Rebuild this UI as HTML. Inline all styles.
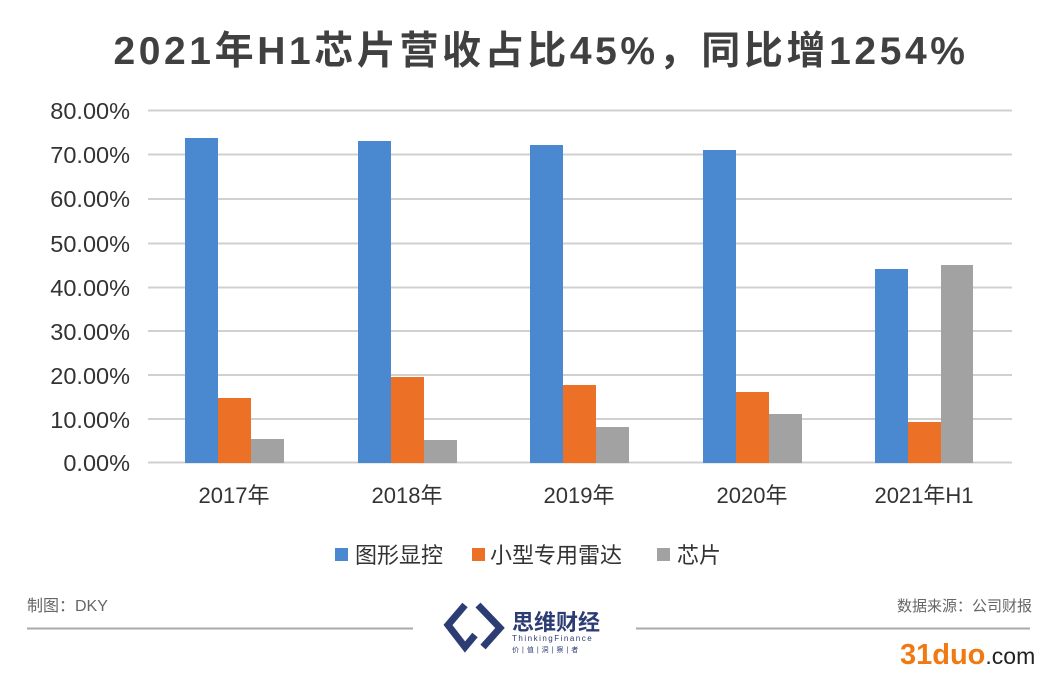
<!DOCTYPE html>
<html><head><meta charset="utf-8"><style>
body{margin:0;background:#fff;width:1063px;height:675px;overflow:hidden;font-family:"Liberation Sans","Noto Sans CJK SC",sans-serif}
</style></head><body>
<svg width="1063" height="675" xmlns="http://www.w3.org/2000/svg" font-family="Liberation Sans, Noto Sans CJK SC, sans-serif">
<text x="541" y="64" text-anchor="middle" font-size="39" font-weight="bold" fill="#404040" letter-spacing="3.6">2021年H1芯片营收占比45%，同比增1254%</text>
<g stroke="#d0d0d0" stroke-width="2">
<line x1="148" x2="1012" y1="110.5" y2="110.5"/>
<line x1="148" x2="1012" y1="154.5" y2="154.5"/>
<line x1="148" x2="1012" y1="199" y2="199"/>
<line x1="148" x2="1012" y1="243.5" y2="243.5"/>
<line x1="148" x2="1012" y1="287.5" y2="287.5"/>
<line x1="148" x2="1012" y1="331" y2="331"/>
<line x1="148" x2="1012" y1="375" y2="375"/>
<line x1="148" x2="1012" y1="419" y2="419"/>
<line x1="148" x2="1012" y1="462.5" y2="462.5"/>
</g>
<g font-size="23.5" fill="#333" text-anchor="end">
<text x="130" y="119">80.00%</text>
<text x="130" y="163">70.00%</text>
<text x="130" y="207">60.00%</text>
<text x="130" y="252">50.00%</text>
<text x="130" y="296">40.00%</text>
<text x="130" y="340">30.00%</text>
<text x="130" y="384">20.00%</text>
<text x="130" y="428">10.00%</text>
<text x="130" y="471">0.00%</text>
</g>
<g fill="#4a89d0">
<rect x="185" y="138" width="33" height="325"/>
<rect x="358" y="141" width="33" height="322"/>
<rect x="530" y="145" width="33" height="318"/>
<rect x="703" y="150" width="33" height="313"/>
<rect x="875" y="269" width="33" height="194"/>
</g>
<g fill="#ec7127">
<rect x="218" y="398" width="33" height="65"/>
<rect x="391" y="377" width="33" height="86"/>
<rect x="563" y="385" width="33" height="78"/>
<rect x="736" y="392" width="33" height="71"/>
<rect x="908" y="422" width="33" height="41"/>
</g>
<g fill="#a2a2a2">
<rect x="251" y="439" width="33" height="24"/>
<rect x="424" y="440" width="33" height="23"/>
<rect x="596" y="427" width="33" height="36"/>
<rect x="769" y="414" width="33" height="49"/>
<rect x="941" y="265" width="32" height="198"/>
</g>
<g font-size="22" fill="#333" text-anchor="middle">
<text x="234" y="503">2017年</text>
<text x="407" y="503">2018年</text>
<text x="579" y="503">2019年</text>
<text x="752" y="503">2020年</text>
<text x="924" y="503">2021年H1</text>
</g>
<rect x="335" y="548" width="13" height="13" fill="#4a89d0"/>
<text x="355" y="563" font-size="22" fill="#333">图形显控</text>
<rect x="472" y="548" width="13" height="13" fill="#ec7127"/>
<text x="490" y="563" font-size="22" fill="#333">小型专用雷达</text>
<rect x="657" y="548" width="13" height="13" fill="#a2a2a2"/>
<text x="677" y="563" font-size="22" fill="#333">芯片</text>
<text x="27" y="611" font-size="16" fill="#666">制图：DKY</text>
<text x="1032" y="611" font-size="15" fill="#666" text-anchor="end">数据来源：公司财报</text>
<line x1="27" x2="413" y1="628.5" y2="628.5" stroke="#aaa" stroke-width="2"/>
<line x1="636" x2="1030" y1="628.5" y2="628.5" stroke="#aaa" stroke-width="2"/>
<g fill="none" stroke="#2c3d73" stroke-width="7">
<path d="M465 605 L448 625 L465 647 L475 635"/>
<path d="M478 605 L500 628 L483 647"/>
</g>
<text x="512" y="630" font-size="22" font-weight="bold" fill="#2c3d73">思维财经</text>
<text x="512" y="641" font-size="8" fill="#2c3d73" letter-spacing="1.5">ThinkingFinance</text>
<text x="512" y="652" font-size="7" fill="#2c3d73" letter-spacing="3">价|值|洞|察|者</text>
<text x="900" y="664" font-size="29" font-weight="bold" fill="#f07a12">31duo<tspan fill="#222" font-size="23" font-weight="normal">.com</tspan></text>
</svg>
</body></html>
